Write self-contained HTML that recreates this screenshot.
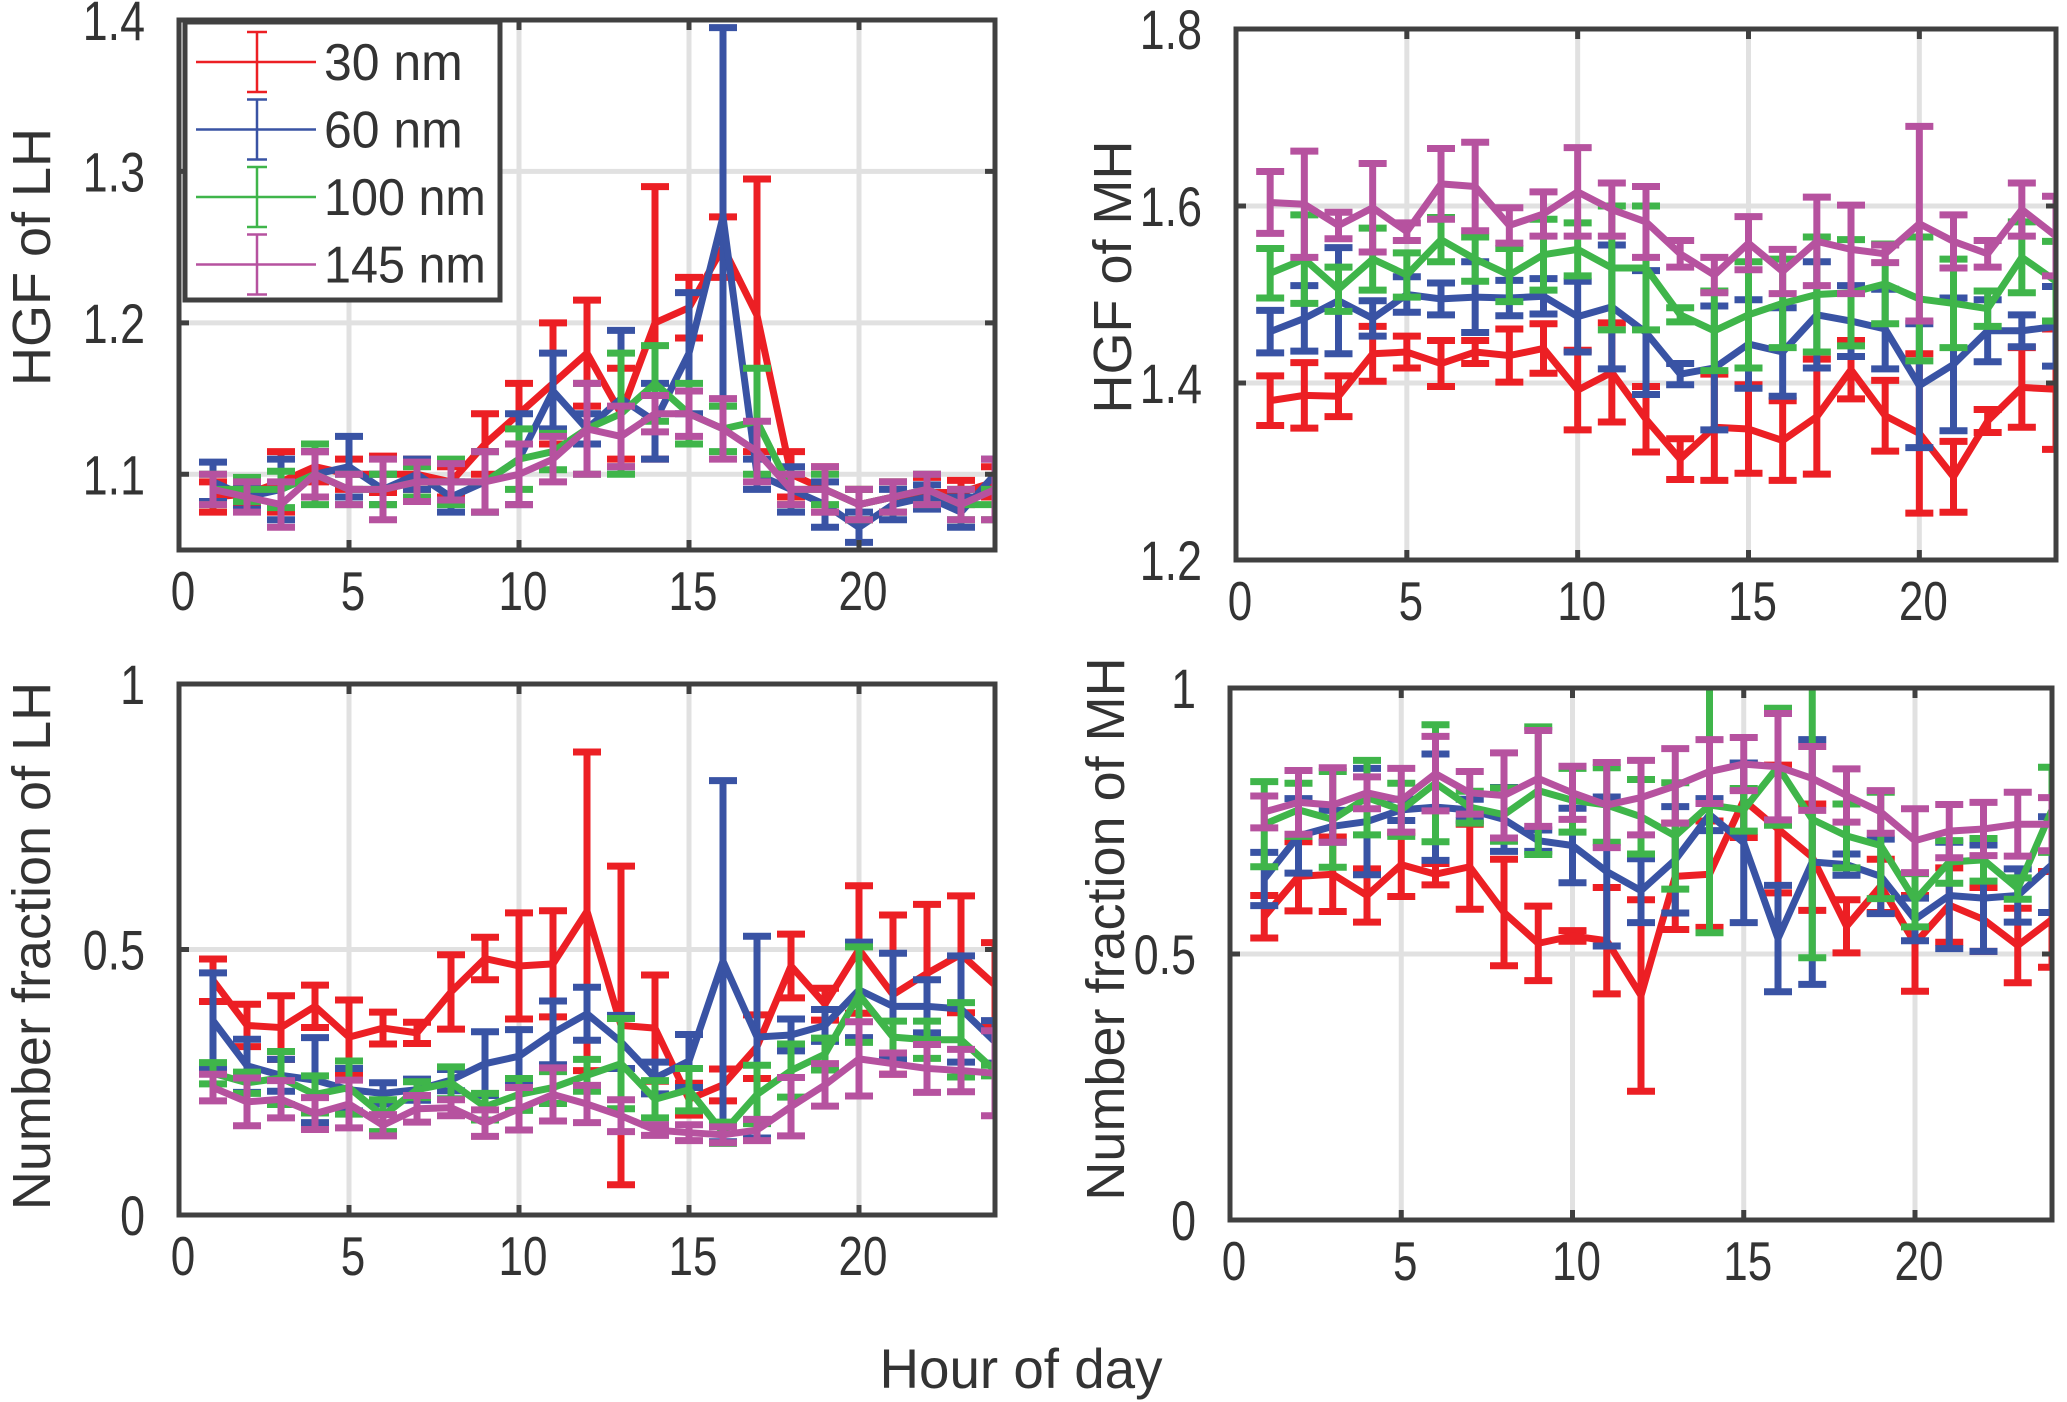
<!DOCTYPE html>
<html><head><meta charset="utf-8"><style>
html,body{margin:0;padding:0;background:#fff}
svg{display:block}
text{font-family:"Liberation Sans",sans-serif;fill:#333}
</style></head><body>
<svg id="fig" width="2067" height="1402" viewBox="0 0 2067 1402" xmlns="http://www.w3.org/2000/svg"></svg>
<script>
const hours=[1,2,3,4,5,6,7,8,9,10,11,12,13,14,15,16,17,18,19,20,21,22,23,24];
const seriesNames=["30 nm","60 nm","100 nm","145 nm"];
const colors=["#ec1f24","#3953a4","#3fb54a","#b6529f"];
const xTicks=[0,5,10,15,20];
// Panel 1: HGF of LH
const p1Red=[1.085,1.087,1.095,1.105,1.1,1.1,1.1,1.095,1.12,1.14,1.16,1.18,1.14,1.2,1.21,1.25,1.205,1.1,1.09,1.08,1.085,1.088,1.088,1.095];
const p1RedErr=[0.01,0.008,0.02,0.01,0.01,0.012,0.01,0.01,0.02,0.02,0.04,0.035,0.03,0.09,0.02,0.02,0.09,0.015,0.015,0.01,0.01,0.01,0.008,0.01];
const p1Blue=[1.095,1.085,1.09,1.1,1.105,1.09,1.1,1.085,1.095,1.11,1.155,1.13,1.15,1.135,1.18,1.27,1.1,1.09,1.08,1.065,1.08,1.085,1.075,1.1];
const p1BlueErr=[0.013,0.008,0.02,0.015,0.02,0.01,0.01,0.01,0.02,0.03,0.025,0.01,0.045,0.025,0.04,0.125,0.01,0.015,0.015,0.01,0.01,0.008,0.01,0.01];
const p1Green=[1.09,1.09,1.09,1.1,1.09,1.09,1.095,1.095,1.095,1.11,1.115,1.13,1.14,1.16,1.14,1.13,1.135,1.09,1.09,1.08,1.085,1.09,1.08,1.08];
const p1GreenErr=[0.01,0.008,0.012,0.02,0.01,0.01,0.01,0.015,0.02,0.02,0.012,0.03,0.04,0.025,0.02,0.015,0.035,0.01,0.01,0.01,0.01,0.01,0.01,0.01];
const p1Purple=[1.09,1.085,1.08,1.1,1.09,1.09,1.095,1.095,1.095,1.1,1.11,1.13,1.125,1.14,1.14,1.13,1.115,1.09,1.09,1.08,1.085,1.09,1.08,1.09];
const p1PurpleErr=[0.01,0.01,0.015,0.015,0.01,0.02,0.013,0.012,0.02,0.02,0.015,0.03,0.02,0.012,0.015,0.02,0.02,0.01,0.015,0.01,0.01,0.01,0.01,0.02];
const p1Ticks=[1.1,1.2,1.3,1.4];const p1TickLabels=["1.1","1.2","1.3","1.4"];
// Panel 2: HGF of MH
const p2Red=[1.38,1.386,1.385,1.433,1.435,1.422,1.435,1.431,1.439,1.392,1.412,1.359,1.314,1.35,1.348,1.335,1.362,1.415,1.363,1.343,1.294,1.357,1.395,1.393];
const p2RedErr=[0.028,0.037,0.023,0.031,0.018,0.026,0.013,0.03,0.028,0.045,0.056,0.037,0.023,0.06,0.05,0.045,0.065,0.033,0.04,0.09,0.04,0.013,0.045,0.068];
const p2Blue=[1.458,1.473,1.493,1.473,1.5,1.495,1.497,1.496,1.498,1.475,1.486,1.457,1.41,1.417,1.444,1.435,1.477,1.47,1.461,1.397,1.421,1.459,1.459,1.464];
const p2BlueErr=[0.024,0.037,0.06,0.02,0.02,0.018,0.04,0.02,0.02,0.04,0.07,0.07,0.012,0.07,0.05,0.05,0.06,0.04,0.045,0.07,0.075,0.035,0.018,0.045];
const p2Green=[1.524,1.54,1.506,1.54,1.522,1.562,1.54,1.522,1.545,1.551,1.53,1.53,1.477,1.459,1.477,1.49,1.5,1.502,1.512,1.495,1.49,1.484,1.542,1.515];
const p2GreenErr=[0.028,0.05,0.025,0.035,0.025,0.025,0.025,0.03,0.04,0.03,0.07,0.07,0.008,0.045,0.06,0.05,0.065,0.06,0.045,0.07,0.05,0.02,0.04,0.045];
const p2Purple=[1.604,1.602,1.578,1.598,1.571,1.625,1.622,1.578,1.591,1.616,1.596,1.582,1.546,1.522,1.558,1.526,1.56,1.551,1.546,1.58,1.56,1.546,1.596,1.566];
const p2PurpleErr=[0.035,0.06,0.015,0.05,0.01,0.04,0.05,0.02,0.025,0.05,0.03,0.04,0.015,0.02,0.03,0.025,0.05,0.05,0.01,0.11,0.03,0.015,0.03,0.045];
const p2Ticks=[1.2,1.4,1.6,1.8];const p2TickLabels=["1.2","1.4","1.6","1.8"];
// Panel 3: Number fraction of LH
const p3Red=[0.442,0.357,0.353,0.393,0.335,0.352,0.343,0.42,0.483,0.469,0.473,0.572,0.357,0.352,0.218,0.245,0.317,0.469,0.397,0.5,0.415,0.455,0.491,0.433];
const p3RedErr=[0.04,0.04,0.06,0.04,0.07,0.03,0.02,0.07,0.04,0.1,0.1,0.3,0.3,0.1,0.03,0.03,0.06,0.06,0.03,0.12,0.15,0.13,0.11,0.08];
const p3Blue=[0.366,0.281,0.263,0.254,0.236,0.229,0.236,0.254,0.285,0.299,0.343,0.379,0.326,0.258,0.29,0.478,0.335,0.339,0.357,0.424,0.393,0.393,0.388,0.326];
const p3BlueErr=[0.09,0.05,0.03,0.08,0.04,0.02,0.02,0.02,0.06,0.05,0.06,0.05,0.05,0.03,0.05,0.34,0.19,0.03,0.03,0.09,0.1,0.05,0.1,0.04];
const p3Green=[0.267,0.249,0.258,0.227,0.24,0.187,0.236,0.249,0.204,0.227,0.24,0.263,0.285,0.218,0.236,0.155,0.227,0.272,0.303,0.415,0.335,0.33,0.33,0.272];
const p3GreenErr=[0.02,0.02,0.05,0.035,0.05,0.03,0.015,0.03,0.025,0.03,0.03,0.03,0.085,0.035,0.04,0.02,0.055,0.05,0.03,0.09,0.03,0.035,0.07,0.01];
const p3Purple=[0.24,0.213,0.218,0.191,0.209,0.169,0.2,0.202,0.173,0.2,0.227,0.209,0.187,0.16,0.155,0.151,0.16,0.204,0.245,0.294,0.285,0.276,0.272,0.267];
const p3PurpleErr=[0.025,0.045,0.035,0.03,0.045,0.02,0.025,0.015,0.025,0.04,0.05,0.035,0.03,0.01,0.015,0.015,0.02,0.055,0.04,0.07,0.02,0.045,0.04,0.08];
const p3Ticks=[0,0.5,1];const p3TickLabels=["0","0.5","1"];
// Panel 4: Number fraction of MH
const p4Red=[0.57,0.646,0.65,0.61,0.668,0.65,0.664,0.578,0.52,0.534,0.525,0.422,0.646,0.65,0.789,0.735,0.682,0.552,0.628,0.52,0.592,0.565,0.516,0.565];
const p4RedErr=[0.04,0.065,0.07,0.05,0.06,0.02,0.08,0.1,0.07,0.01,0.1,0.18,0.1,0.1,0.07,0.12,0.1,0.05,0.05,0.09,0.07,0.06,0.07,0.09];
const p4Blue=[0.641,0.722,0.74,0.749,0.771,0.776,0.771,0.753,0.713,0.704,0.655,0.619,0.677,0.762,0.709,0.529,0.673,0.668,0.646,0.565,0.61,0.605,0.61,0.668];
const p4BlueErr=[0.05,0.07,0.03,0.1,0.02,0.1,0.02,0.06,0.02,0.07,0.14,0.06,0.1,0.03,0.15,0.1,0.23,0.02,0.07,0.04,0.1,0.1,0.05,0.09];
const p4Green=[0.744,0.771,0.753,0.794,0.771,0.821,0.776,0.762,0.807,0.789,0.78,0.758,0.722,0.78,0.771,0.852,0.753,0.722,0.704,0.601,0.673,0.677,0.623,0.771];
const p4GreenErr=[0.08,0.05,0.09,0.07,0.05,0.11,0.03,0.05,0.12,0.06,0.07,0.07,0.1,0.24,0.04,0.11,0.26,0.06,0.1,0.05,0.04,0.04,0.02,0.08];
const p4Purple=[0.767,0.785,0.78,0.803,0.789,0.839,0.803,0.798,0.83,0.803,0.78,0.794,0.816,0.843,0.857,0.852,0.83,0.798,0.767,0.713,0.731,0.735,0.744,0.744];
const p4PurpleErr=[0.03,0.06,0.07,0.03,0.06,0.07,0.04,0.08,0.09,0.05,0.08,0.07,0.07,0.06,0.05,0.1,0.06,0.05,0.04,0.06,0.05,0.05,0.06,0.05];
const p4Ticks=[0,0.5,1];const p4TickLabels=["0","0.5","1"];

const NS="http://www.w3.org/2000/svg";
const svg=document.getElementById('fig');
function mk(tag,attrs,parent){const e=document.createElementNS(NS,tag);for(const k in attrs)e.setAttribute(k,attrs[k]);(parent||svg).appendChild(e);return e;}
function txtW(s,fs){let w=0;for(const c of s){w+=(c==='.'?0.278:c===' '?0.278:0.556);}return w*fs;}

const panels=[
 {key:'hgf-lh',L:179,R:995,T:20,B:550,ymin:1.05,ymax:1.4,ylabel:"HGF of LH",lx:32,ly:257,
  means:[p1Red,p1Blue,p1Green,p1Purple],errs:[p1RedErr,p1BlueErr,p1GreenErr,p1PurpleErr],yt:p1Ticks,ytl:p1TickLabels},
 {key:'hgf-mh',L:1236,R:2056,T:29,B:560,ymin:1.2,ymax:1.8,ylabel:"HGF of MH",lx:1113,ly:277,
  means:[p2Red,p2Blue,p2Green,p2Purple],errs:[p2RedErr,p2BlueErr,p2GreenErr,p2PurpleErr],yt:p2Ticks,ytl:p2TickLabels},
 {key:'nf-lh',L:179,R:995,T:684,B:1215,ymin:0,ymax:1,ylabel:"Number fraction of LH",lx:32,ly:946,
  means:[p3Red,p3Blue,p3Green,p3Purple],errs:[p3RedErr,p3BlueErr,p3GreenErr,p3PurpleErr],yt:p3Ticks,ytl:p3TickLabels},
 {key:'nf-mh',L:1230,R:2052,T:688,B:1220,ymin:0,ymax:1,ylabel:"Number fraction of MH",lx:1106,ly:929,
  means:[p4Red,p4Blue,p4Green,p4Purple],errs:[p4RedErr,p4BlueErr,p4GreenErr,p4PurpleErr],yt:p4Ticks,ytl:p4TickLabels}
];
const defs=mk('defs',{});
panels.forEach((p,pi)=>{
  const xs=v=>p.L+(v-0)/(24-0)*(p.R-p.L);
  const ys=v=>p.B-(v-p.ymin)/(p.ymax-p.ymin)*(p.B-p.T);
  const g=mk('g',{});
  
  
  const cp=mk('clipPath',{id:'clip'+pi},defs);
  mk('rect',{x:p.L,y:p.T-2,width:p.R-p.L,height:p.B-p.T+4},cp);
  xTicks.forEach(t=>{const l=mk('line',{x1:xs(t),x2:xs(t),y1:p.T,y2:p.B,stroke:'#e1e1e1','stroke-width':5},g);
    });
  p.yt.forEach(t=>{const l=mk('line',{x1:p.L,x2:p.R,y1:ys(t),y2:ys(t),stroke:'#e1e1e1','stroke-width':5},g);
    });
  const sg=mk('g',{'clip-path':'url(#clip'+pi+')'},g);
  p.means.forEach((m,si)=>{
    const e=p.errs[si];const c=colors[si];
    const s=mk('g',{},sg);
    
    
    hours.forEach((h,i)=>{
      const x=xs(h),y1=ys(m[i]-e[i]),y2=ys(m[i]+e[i]);
      const eb=mk('path',{d:`M${x},${y1}V${y2}M${x-14},${y1}H${x+14}M${x-14},${y2}H${x+14}`,stroke:c,'stroke-width':7,fill:'none'},s);
      
      
    });
    const d=hours.map((h,i)=>(i?'L':'M')+xs(h)+','+ys(m[i])).join('');
    const ln=mk('path',{d:d,stroke:c,'stroke-width':7,fill:'none','stroke-linejoin':'round'},s);
    
    
  });
  const box=mk('rect',{x:p.L,y:p.T,width:p.R-p.L,height:p.B-p.T,fill:'none',stroke:'#404040','stroke-width':5},g);
  
  xTicks.forEach(t=>{mk('path',{d:`M${xs(t)},${p.B}v-10M${xs(t)},${p.T}v10`,stroke:'#404040','stroke-width':5},g);
    const tx=mk('text',{x:xs(t)+4,y:p.B+60,'font-size':55,'text-anchor':'middle',textLength:txtW(String(t),55)*0.8,lengthAdjust:'spacingAndGlyphs'},g);
    tx.textContent=String(t);});
  p.yt.forEach((t,i)=>{mk('path',{d:`M${p.L},${ys(t)}h10M${p.R},${ys(t)}h-10`,stroke:'#404040','stroke-width':5},g);
    const lab=p.ytl[i];
    const tx=mk('text',{x:p.L-34,y:ys(t)+20,'font-size':56,'text-anchor':'end',textLength:txtW(lab,56)*0.8,lengthAdjust:'spacingAndGlyphs'},g);
    tx.textContent=lab;});
  const yl=mk('text',{x:0,y:0,'font-size':54,'text-anchor':'middle',transform:`translate(${p.lx+18},${p.ly}) rotate(-90)`},g);
  yl.textContent=p.ylabel;
});
const lg=mk('g',{});


mk('rect',{x:185,y:22,width:315,height:278,fill:'#fff',stroke:'#404040','stroke-width':5},lg);
seriesNames.forEach((n,i)=>{
  const cy=62+i*67.5;
  const e=mk('g',{},lg);
  
  
  mk('path',{d:`M196,${cy}H316M257,${cy-30}V${cy+30}M247,${cy-30}H267M247,${cy+30}H267`,stroke:colors[i],'stroke-width':2.5,fill:'none'},e);
  const t=mk('text',{x:324,y:cy+18,'font-size':52,fill:'#111',textLength:(n.length*0.556+0.555)*52*0.8,lengthAdjust:'spacingAndGlyphs'},e);
  t.textContent=n;
});
const xt=mk('text',{x:1021,y:1388,'font-size':56,'text-anchor':'middle',textLength:283,lengthAdjust:'spacingAndGlyphs'});
xt.textContent="Hour of day";


</script>
</body></html>
